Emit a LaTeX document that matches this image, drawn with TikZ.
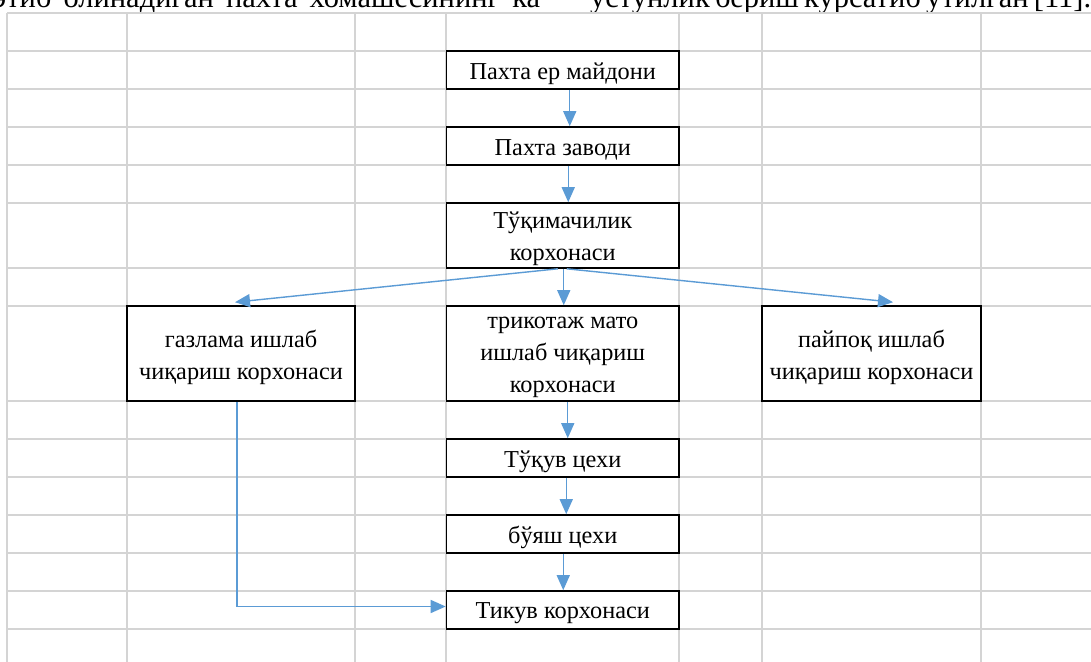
\documentclass[tikz,border=0pt]{standalone}
\usepackage{fontspec}
\setmainfont{Liberation Serif}
\usetikzlibrary{arrows.meta}
\definecolor{gridc}{HTML}{D4D4D4}
\definecolor{arrc}{HTML}{5B9BD5}
\begin{document}
\begin{tikzpicture}[x=1bp,y=-1bp,
  gridline/.style={draw=gridc,line width=1.5bp},
  box/.style={draw=black,fill=white,line width=1.6bp,inner sep=0pt},
  sbox/.style={box,minimum width=232.5bp,minimum height=38bp},
  txt/.style={inner sep=0pt,align=center,font=\fontsize{24.3bp}{32bp}\selectfont},
  arr/.style={draw=arrc,line width=1.4bp,-{Triangle[length=15bp,width=13bp]}},
  topt/.style={anchor=base west,inner sep=0pt,font=\fontsize{30.5bp}{36bp}\selectfont}]
\useasboundingbox (0,0) rectangle (1091,662);
\clip (0,0) rectangle (1091,662);
\fill[white] (0,0) rectangle (1091,662);
% top text line (cut off)
\node[topt] (tx1) at (-7,7.5) {\makebox[547bp][s]{этиб олинадиган пахта хомашесининг ка}};
\node[topt] (tx2) at (590,7.5) {\makebox[501bp][s]{устунлик бериш курсатиб утилган [11].}};
% spreadsheet grid
\foreach \x in {7,127,355,446,679,762,981}
  \draw[gridline] (\x,13) -- (\x,662);
\foreach \y in {13,51,89,127,165,203,268,306,401,439,477,515,553,591,629}
  \draw[gridline] (7,\y) -- (1091,\y);
% boxes
\node[sbox] (b1) at (562.75,70) {};
\node[sbox] (b2) at (562.75,146) {};
\node[box,minimum width=232.5bp,minimum height=65bp] (b3) at (562.75,235.5) {};
\node[box,minimum width=228bp,minimum height=95bp] (gz) at (241,353.5) {};
\node[box,minimum width=232.5bp,minimum height=95bp] (tr) at (562.75,353.5) {};
\node[box,minimum width=219bp,minimum height=95bp] (pp) at (871.5,353.5) {};
\node[sbox] (tq) at (562.75,458) {};
\node[sbox] (by) at (562.75,534) {};
\node[sbox] (tk) at (562.75,610) {};
% box texts
\node[txt] (b1t) at ([yshift=-3.5bp]b1.center) {Пахта ер майдони};
\node[txt] (b2t) at ([yshift=-3.5bp]b2.center) {Пахта заводи};
\node[txt] (b3t) at ([yshift=-3.5bp]b3.center) {Тўқимачилик\\корхонаси};
\node[txt] (gzt) at ([yshift=-3.5bp]gz.center) {газлама ишлаб\\чиқариш корхонаси};
\node[txt] (trt) at ([yshift=-3.5bp]tr.center) {трикотаж мато\\ишлаб чиқариш\\корхонаси};
\node[txt] (ppt) at ([yshift=-3.5bp]pp.center) {пайпоқ ишлаб\\чиқариш корхонаси};
\node[txt] (tqt) at ([yshift=-3.5bp]tq.center) {Тўқув цехи};
\node[txt] (byt) at ([yshift=-3.5bp]by.center) {бўяш цехи};
\node[txt] (tkt) at ([yshift=-3.5bp]tk.center) {Тикув корхонаси};
% connectors
\draw[arr] ([xshift=7bp]b1.south) -- ([xshift=7bp]b2.north);
\draw[arr] ([xshift=5.5bp]b2.south) -- ([xshift=5.5bp]b3.north);
\draw[arr] ([xshift=-5bp]b3.south) -- ([xshift=-6bp,yshift=3bp]gz.north);
\draw[arr] ([xshift=1bp]b3.south) -- ([xshift=1bp]tr.north);
\draw[arr] ([xshift=4bp]b3.south) -- ([xshift=21.5bp,yshift=3bp]pp.north);
\draw[arr] ([xshift=5bp]tr.south) -- ([xshift=5bp]tq.north);
\draw[arr] ([xshift=3.5bp]tq.south) -- ([xshift=3.5bp]by.north);
\draw[arr] ([xshift=0.5bp]by.south) -- ([xshift=0.5bp]tk.north);
\draw[arr] ([xshift=-4bp]gz.south) |- ([yshift=3.5bp]tk.west);
\end{tikzpicture}
\end{document}
